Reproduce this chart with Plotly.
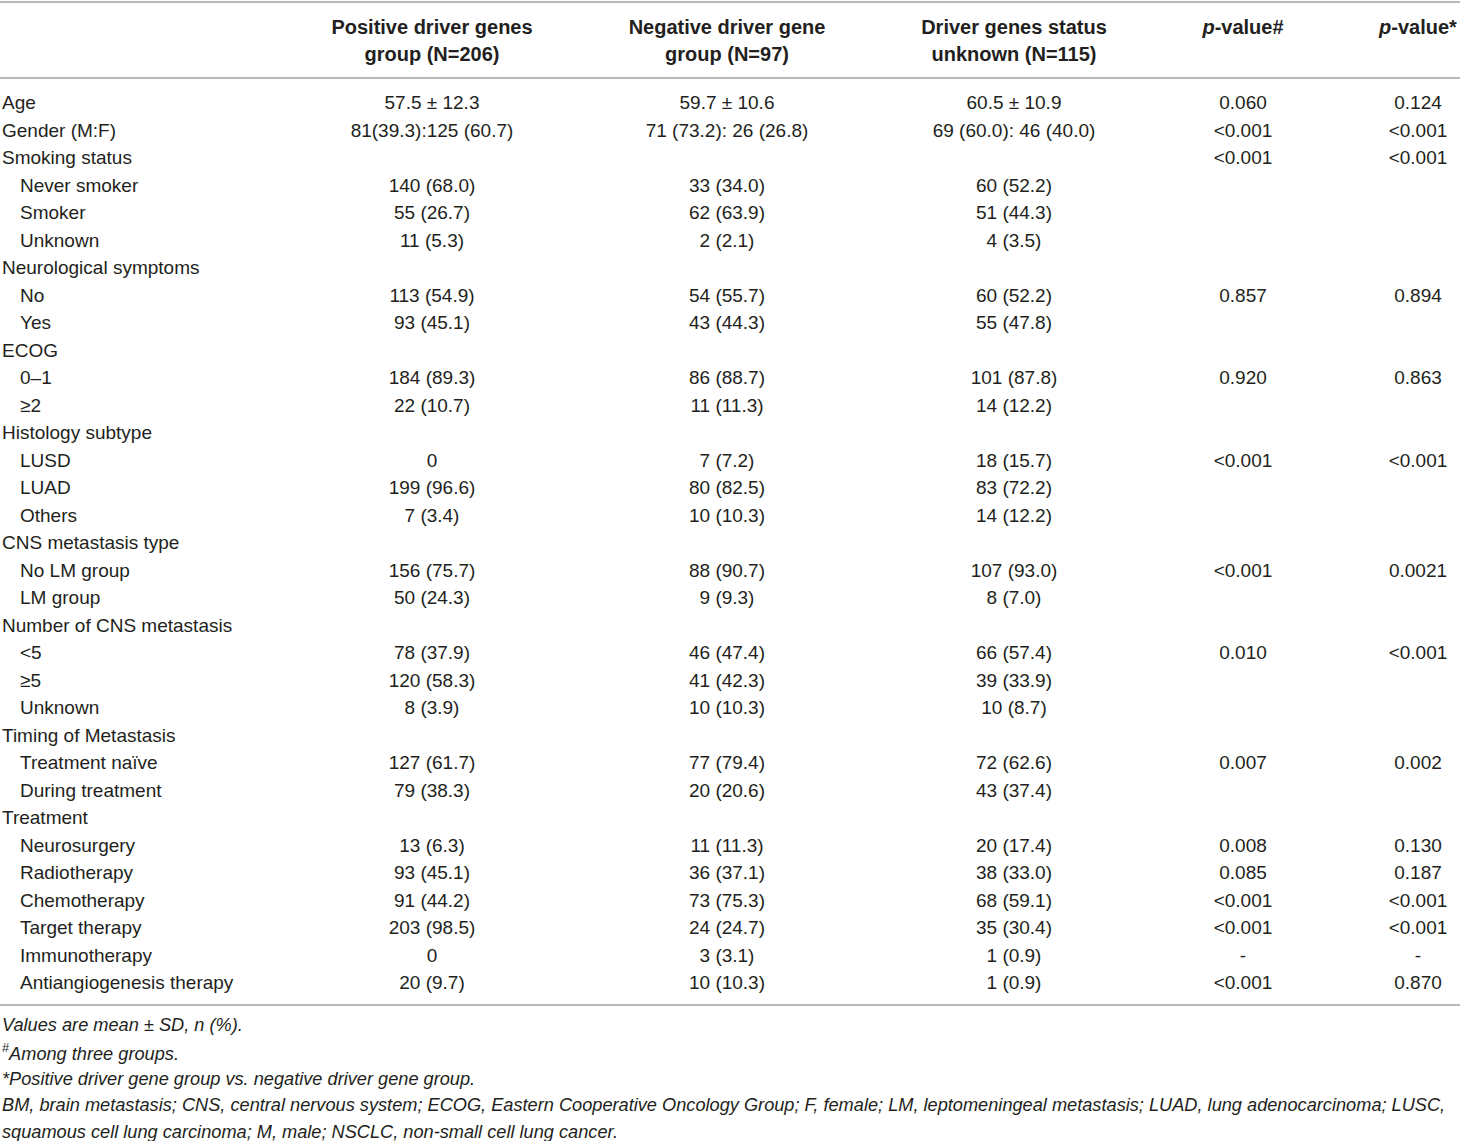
import plotly.graph_objects as go

W, H = 1460, 1141

header_line1 = ["Positive driver genes", "Negative driver gene", "Driver genes status",
                "<i>p</i>-value#", "<i>p</i>-value*"]
header_line2 = ["group (N=206)", "group (N=97)", "unknown (N=115)", "", ""]

labels = [
    "Age", "Gender (M:F)", "Smoking status",
    "Never smoker", "Smoker", "Unknown",
    "Neurological symptoms", "No", "Yes",
    "ECOG", "0–1", "≥2",
    "Histology subtype", "LUSD", "LUAD", "Others",
    "CNS metastasis type", "No LM group", "LM group",
    "Number of CNS metastasis", "<5", "≥5", "Unknown",
    "Timing of Metastasis", "Treatment naïve", "During treatment",
    "Treatment", "Neurosurgery", "Radiotherapy", "Chemotherapy",
    "Target therapy", "Immunotherapy", "Antiangiogenesis therapy",
]
indented = [
    False, False, False, True, True, True,
    False, True, True, False, True, True,
    False, True, True, True, False, True, True,
    False, True, True, True, False, True, True,
    False, True, True, True, True, True, True,
]

positive = [
    "57.5 ± 12.3", "81(39.3):125 (60.7)", "",
    "140 (68.0)", "55 (26.7)", "11 (5.3)",
    "", "113 (54.9)", "93 (45.1)",
    "", "184 (89.3)", "22 (10.7)",
    "", "0", "199 (96.6)", "7 (3.4)",
    "", "156 (75.7)", "50 (24.3)",
    "", "78 (37.9)", "120 (58.3)", "8 (3.9)",
    "", "127 (61.7)", "79 (38.3)",
    "", "13 (6.3)", "93 (45.1)", "91 (44.2)", "203 (98.5)", "0", "20 (9.7)",
]
negative = [
    "59.7 ± 10.6", "71 (73.2): 26 (26.8)", "",
    "33 (34.0)", "62 (63.9)", "2 (2.1)",
    "", "54 (55.7)", "43 (44.3)",
    "", "86 (88.7)", "11 (11.3)",
    "", "7 (7.2)", "80 (82.5)", "10 (10.3)",
    "", "88 (90.7)", "9 (9.3)",
    "", "46 (47.4)", "41 (42.3)", "10 (10.3)",
    "", "77 (79.4)", "20 (20.6)",
    "", "11 (11.3)", "36 (37.1)", "73 (75.3)", "24 (24.7)", "3 (3.1)", "10 (10.3)",
]
unknown = [
    "60.5 ± 10.9", "69 (60.0): 46 (40.0)", "",
    "60 (52.2)", "51 (44.3)", "4 (3.5)",
    "", "60 (52.2)", "55 (47.8)",
    "", "101 (87.8)", "14 (12.2)",
    "", "18 (15.7)", "83 (72.2)", "14 (12.2)",
    "", "107 (93.0)", "8 (7.0)",
    "", "66 (57.4)", "39 (33.9)", "10 (8.7)",
    "", "72 (62.6)", "43 (37.4)",
    "", "20 (17.4)", "38 (33.0)", "68 (59.1)", "35 (30.4)", "1 (0.9)", "1 (0.9)",
]
p_three = [
    "0.060", "<0.001", "<0.001", "", "", "",
    "", "0.857", "", "", "0.920", "",
    "", "<0.001", "", "", "", "<0.001", "",
    "", "0.010", "", "", "", "0.007", "",
    "", "0.008", "0.085", "<0.001", "<0.001", "-", "<0.001",
]
p_pair = [
    "0.124", "<0.001", "<0.001", "", "", "",
    "", "0.894", "", "", "0.863", "",
    "", "<0.001", "", "", "", "0.0021", "",
    "", "<0.001", "", "", "", "0.002", "",
    "", "0.130", "0.187", "<0.001", "<0.001", "-", "0.870",
]

footnotes = [
    "<i>Values are mean ± SD, n (%).</i>",
    "<sup>#</sup><i>Among three groups.</i>",
    "<i>*Positive driver gene group vs. negative driver gene group.</i>",
    "<i>BM, brain metastasis; CNS, central nervous system; ECOG, Eastern Cooperative "
    "Oncology Group; F, female; LM, leptomeningeal metastasis; LUAD, lung adenocarcinoma; LUSC,</i>",
    "<i>squamous cell lung carcinoma; M, male; NSCLC, non-small cell lung cancer.</i>",
]

FONT = "Liberation Sans, Arial, sans-serif"
INK = "#231f20"
RULE = "#a0a0a0"

# layout (pixels): first body row centre, row pitch, column centres
ROW0, PITCH = 104.5, 27.5
LABEL_X, INDENT_X = 2, 20
COL_X = [432, 727, 1014, 1243, 1418]
HEAD_Y = [28.5, 55.5]
NOTE_Y0, NOTE_STEP = 1025, 26.8


def row_of(px):
    return (px - ROW0) / PITCH


rows = list(range(len(labels)))
fig = go.Figure()

# stub column, split into top-level and indented labels
for flag, x0 in ((False, LABEL_X), (True, INDENT_X)):
    idx = [i for i in rows if indented[i] == flag]
    fig.add_trace(go.Scatter(
        x=[x0] * len(idx), y=idx, text=[labels[i] for i in idx],
        mode="text", textposition="middle right",
        textfont=dict(family=FONT, size=19, color=INK),
        hoverinfo="skip", showlegend=False,
    ))

for cx, col in zip(COL_X, [positive, negative, unknown, p_three, p_pair]):
    fig.add_trace(go.Scatter(
        x=[cx] * len(rows), y=rows, text=col,
        mode="text", textposition="middle center",
        textfont=dict(family=FONT, size=19, color=INK),
        hoverinfo="skip", showlegend=False,
    ))

for hy, line in zip(HEAD_Y, [header_line1, header_line2]):
    fig.add_trace(go.Scatter(
        x=COL_X, y=[row_of(hy)] * len(COL_X), text=[f"<b>{t}</b>" if t else "" for t in line],
        mode="text", textposition="middle center",
        textfont=dict(family=FONT, size=20, color=INK),
        hoverinfo="skip", showlegend=False,
    ))


def py(px):
    return 1 - px / H


for y in (2, 78, 1005):
    fig.add_shape(type="line", xref="paper", yref="paper", x0=0, x1=1,
                  y0=py(y), y1=py(y), line=dict(color=RULE, width=1.5))

for i, txt in enumerate(footnotes):
    fig.add_annotation(text=txt, xref="paper", yref="paper", x=0,
                       y=py(NOTE_Y0 + i * NOTE_STEP),
                       xanchor="left", yanchor="middle", showarrow=False,
                       font=dict(family=FONT, size=18.2, color=INK))

fig.update_layout(
    width=W, height=H, margin=dict(l=0, r=0, t=0, b=0),
    paper_bgcolor="white", plot_bgcolor="white",
    xaxis=dict(range=[0, W], visible=False, fixedrange=True),
    yaxis=dict(range=[row_of(H), row_of(0)], visible=False, fixedrange=True),
)

# drop the browser's default 8px body margin so the figure sits at the page corner
fig.write_html("out.html", post_script="document.body.style.margin = '0';",
               config={"displayModeBar": False})
